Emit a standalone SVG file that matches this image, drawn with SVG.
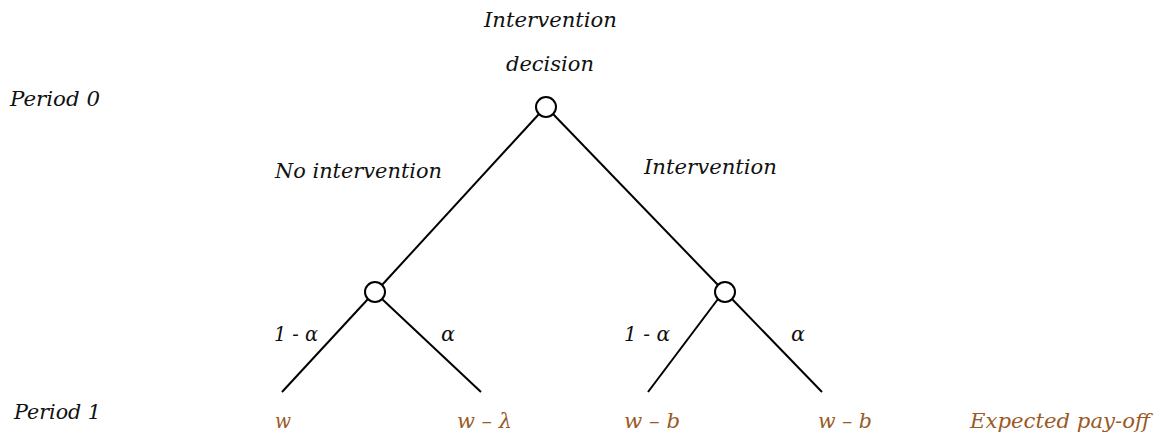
<svg xmlns="http://www.w3.org/2000/svg" width="1159" height="436" viewBox="0 0 1159 436">
<style>
text{font-family:"DejaVu Serif","Liberation Serif",serif;font-style:italic;font-size:20.5px;fill:#111}
.pay{fill:#9a5a26}
.edge{stroke:#000;stroke-width:2;fill:none}
.node{stroke:#000;stroke-width:2;fill:#fff}
</style>
<rect width="1159" height="436" fill="#fff"/>
<g id="connectors">
<line class="edge" x1="539" y1="114" x2="382" y2="285"/>
<line class="edge" x1="553" y1="114" x2="718" y2="285"/>
<line class="edge" x1="368" y1="299" x2="282" y2="392"/>
<line class="edge" x1="382" y1="299" x2="481" y2="392"/>
<line class="edge" x1="718" y1="299" x2="648" y2="392"/>
<line class="edge" x1="732" y1="299" x2="822" y2="392"/>
</g>
<g id="root"><circle class="node" cx="546" cy="107" r="10"/>
<text x="484" y="27" textLength="133" lengthAdjust="spacingAndGlyphs">Intervention</text>
<text x="506" y="71" textLength="88" lengthAdjust="spacingAndGlyphs">decision</text></g>
<g id="nodeLeft"><circle class="node" cx="375" cy="292" r="10"/></g>
<g id="nodeRight"><circle class="node" cx="725" cy="292" r="10"/></g>
<g id="labels">
<text x="10" y="106" textLength="90" lengthAdjust="spacingAndGlyphs">Period 0</text>
<text x="14" y="419" textLength="87" lengthAdjust="spacingAndGlyphs">Period 1</text>
<text x="275" y="178" textLength="167" lengthAdjust="spacingAndGlyphs">No intervention</text>
<text x="644" y="174" textLength="133" lengthAdjust="spacingAndGlyphs">Intervention</text>
<text x="274" y="341" textLength="44" lengthAdjust="spacingAndGlyphs">1 - α</text>
<text x="441" y="341" textLength="14" lengthAdjust="spacingAndGlyphs">α</text>
<text x="624" y="341" textLength="46" lengthAdjust="spacingAndGlyphs">1 - α</text>
<text x="791" y="341" textLength="14" lengthAdjust="spacingAndGlyphs">α</text>
</g>
<g id="leaves">
<text class="pay" x="275" y="428" textLength="16" lengthAdjust="spacingAndGlyphs">w</text>
<text class="pay" x="457" y="428" textLength="55" lengthAdjust="spacingAndGlyphs">w – λ</text>
<text class="pay" x="624" y="428" textLength="56" lengthAdjust="spacingAndGlyphs">w – b</text>
<text class="pay" x="818" y="428" textLength="54" lengthAdjust="spacingAndGlyphs">w – b</text>
<text class="pay" x="970" y="428" textLength="180" lengthAdjust="spacingAndGlyphs">Expected pay-off</text>
</g>
</svg>
